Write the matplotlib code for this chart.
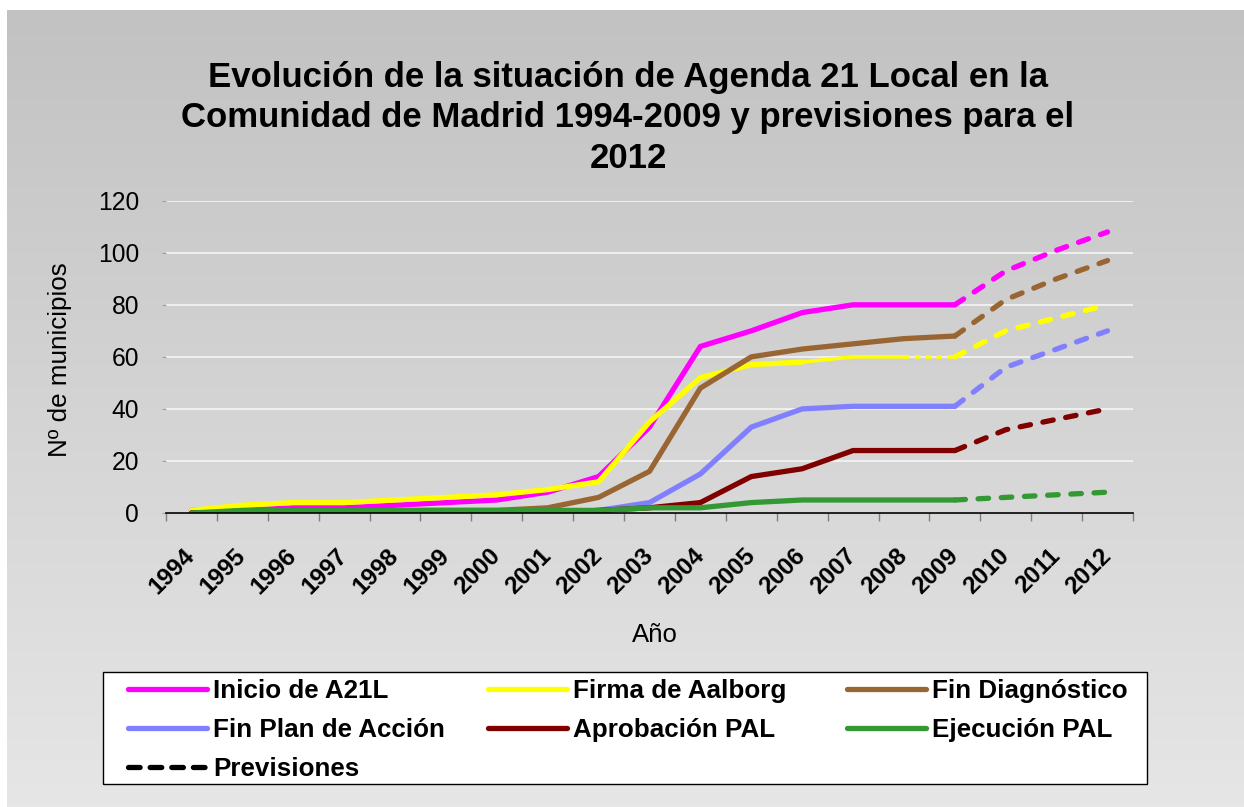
import numpy as np
import matplotlib.pyplot as plt
from matplotlib.lines import Line2D
from matplotlib.patches import Rectangle
from matplotlib.colors import LinearSegmentedColormap

plt.rcParams['font.family'] = ['Liberation Sans', 'DejaVu Sans']

# data
years = [str(y) for y in range(1994, 2013)]
inicio      = [1, 1, 2, 2, 3, 4, 5, 8, 14, 33, 64, 70, 77, 80, 80, 80, 93, 101, 108]
firma       = [1, 3, 4, 4, 5, 6, 7, 9, 12, 35, 52, 57, 58, 60, 60, 60, 70, 75, 80]
diagnostico = [0, 0, 0, 0, 1, 1, 1, 2, 6, 16, 48, 60, 63, 65, 67, 68, 82, 90, 97]
plan_accion = [0, 0, 0, 0, 0, 0, 0, 0, 1, 4, 15, 33, 40, 41, 41, 41, 56, 63, 70]
aprobacion  = [0, 0, 0, 0, 0, 0, 0, 0, 1, 2, 4, 14, 17, 24, 24, 24, 32, 36, 40]
ejecucion   = [0, 1, 1, 1, 1, 1, 1, 1, 1, 2, 2, 4, 5, 5, 5, 5, 6, 7, 8]

names = ['Inicio de A21L', 'Firma de Aalborg', 'Fin Diagnóstico',
         'Fin Plan de Acción', 'Aprobación PAL', 'Ejecución PAL']
series = [inicio, firma, diagnostico, plan_accion, aprobacion, ejecucion]
colors = ['#ff00ff', '#ffff00', '#996633', '#8080ff', '#800000', '#339933']
last_real = 15  # 2009, forecasts after that

W, H = 1244, 807
fig = plt.figure(figsize=(W / 100, H / 100), dpi=100)

# grey gradient background panel
bg = fig.add_axes([7 / W, 0, 1 - 7 / W, 1 - 10 / H], zorder=-10)
grad = np.linspace(0, 1, 256).reshape(-1, 1)
cmap = LinearSegmentedColormap.from_list('bg', ['#c2c2c2', '#e6e6e6'])
bg.imshow(grad, cmap=cmap, aspect='auto', extent=[0, 1, 0, 1], origin='upper')
bg.axis('off')

ax = fig.add_axes([166 / W, (H - 513) / H, (1133 - 166) / W, (513 - 200.7) / H])
ax.set_facecolor('none')

x = np.arange(len(years))
lw = 3.8
handles = []
for name, vals, c in zip(names, series, colors):
    vals = np.array(vals)
    if name == 'Firma de Aalborg':
        ln, = ax.plot(x[:13], vals[:13], color=c, lw=lw, solid_capstyle='round', label=name)
        ax.plot(x[12:15], vals[12:15], color=c, lw=2.6)
        ax.plot(x[14:16], vals[14:16], color=c, lw=2.6, dashes=(1.5, 1.5))
    else:
        ln, = ax.plot(x[:last_real + 1], vals[:last_real + 1], color=c, lw=lw,
                      solid_capstyle='round', label=name)
    ax.plot(x[last_real:], vals[last_real:], color=c, lw=lw, dashes=(2.0, 2.4),
            dash_capstyle='round')
    handles.append(ln)

ax.set_xlim(-0.5, len(years) - 0.5)
ax.set_ylim(0, 120)
ax.set_yticks(np.arange(0, 121, 20))
ax.grid(axis='y', color='#f2f2f2', lw=1.3)
ax.set_axisbelow(True)
for s in ['left', 'top', 'right']:
    ax.spines[s].set_visible(False)
ax.spines['bottom'].set_color('black')
ax.spines['bottom'].set_linewidth(1.2)

ax.set_xticks(x)
ax.set_xticklabels(years, rotation=45, ha='right', va='center',
                   rotation_mode='anchor', fontsize=17.5, fontweight='bold')
ax.set_xticks(np.arange(-0.5, len(years), 1), minor=True)
ax.tick_params(axis='x', which='major', length=0, pad=28)
ax.tick_params(axis='x', which='minor', length=6, color='#808080', width=1)
ax.tick_params(axis='y', length=3, color='#a0a0a0', pad=16.5, labelsize=17.7)

fig.text(60 / W, 1 - 360 / H, 'Nº de municipios', rotation=90, ha='center',
         va='center', fontsize=18.7)
fig.text(655 / W, 1 - 635 / H, 'Año', ha='center', va='center', fontsize=18.5)
fig.text(628 / W, 1 - 118 / H,
         'Evolución de la situación de Agenda 21 Local en la\n'
         'Comunidad de Madrid 1994-2009 y previsiones para el\n2012',
         ha='center', va='center', ma='center', fontsize=25, fontweight='bold',
         linespacing=1.3)

# legend frame and three columns
fig.add_artist(Rectangle((103 / W, 1 - 784 / H), (1147 - 103) / W, (784 - 672) / H,
                         transform=fig.transFigure, facecolor='white',
                         edgecolor='black', lw=1, zorder=1))
prev = Line2D([], [], color='black', lw=lw, dashes=(2.2, 1.9), dash_capstyle='round')
cols = [([handles[0], handles[3], prev], [names[0], names[3], 'Previsiones'], 128),
        ([handles[1], handles[4]], [names[1], names[4]], 488),
        ([handles[2], handles[5]], [names[2], names[5]], 847)]
for hs, ls, xl in cols:
    leg = fig.legend(hs, ls, loc='upper left', bbox_to_anchor=(xl / W, 1 - 679 / H),
                     frameon=False, borderpad=0, borderaxespad=0, handlelength=3.04,
                     handletextpad=0.23, labelspacing=0.57,
                     prop={'size': 18.7, 'weight': 'bold'})
    leg.set_zorder(2)

fig.savefig('out.png', dpi=100)
